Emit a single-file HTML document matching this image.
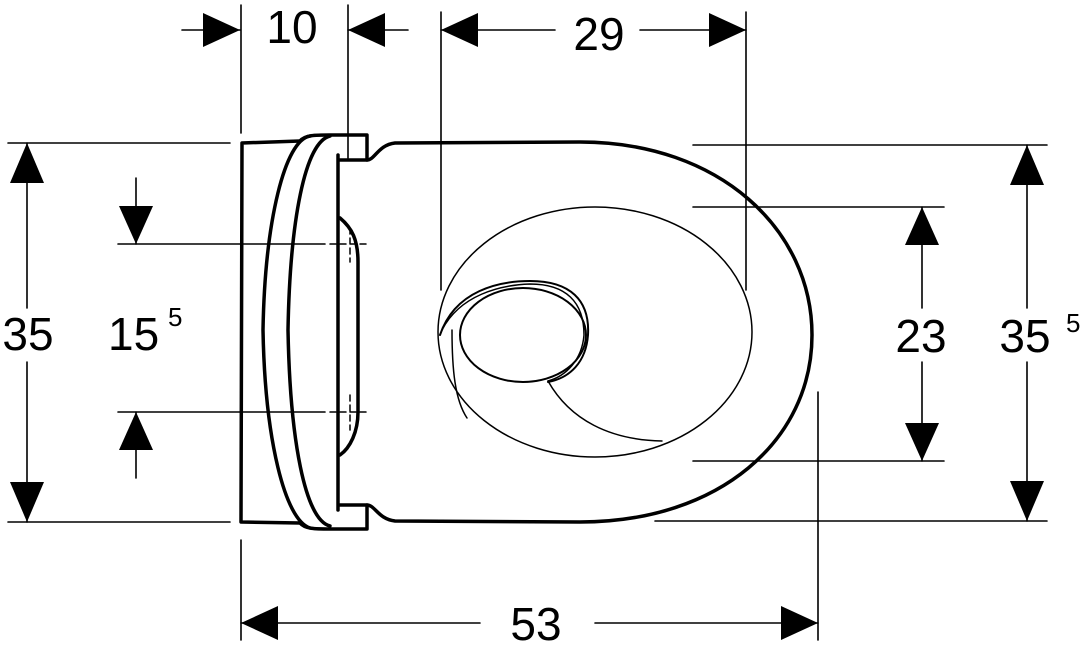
<!DOCTYPE html>
<html><head><meta charset="utf-8"><style>
html,body{margin:0;padding:0;background:#fff}
svg{display:block}
text{font-family:"Liberation Sans",sans-serif;fill:#000}
</style></head><body>
<svg width="1087" height="648" viewBox="0 0 1087 648" xmlns="http://www.w3.org/2000/svg">
<g fill="none" stroke="#000" stroke-linecap="round" stroke-linejoin="round">
<!-- back plate -->
<path d="M300,141 L242,143 L241,522 L300,523" stroke-width="3.5"/>
<!-- seat curves -->
<path d="M310,136 C285,140 265,220 263,330 C265,440 285,520 310,528" stroke-width="3.5"/>
<path d="M330,136 C305,142 290,220 288,330 C290,440 305,520 330,526" stroke-width="3.5"/>
<path d="M300,141 C305,135 315,135 330,135 L367,135 L367,160 L340,160" stroke-width="3.5"/>
<path d="M300,523 C305,529 315,529 330,529 L367,529 L367,505 L340,505" stroke-width="3.5"/>
<path d="M338,155 L338,510" stroke-width="3.5"/>
<!-- hinge bump -->
<path d="M340,218 C352,228 358,240 358,262 L358,412 C358,432 350,448 340,455" stroke-width="3.5"/>
<!-- bowl outline -->
<path d="M367,160 C375,160 378,145 395,143 L580,142 C720,142 812,230 812,335 C812,440 720,522 580,522 L395,521 C378,519 375,505 367,505" stroke-width="3.5"/>
<!-- inner bowl -->
<ellipse cx="595" cy="332" rx="157" ry="125" stroke-width="1.5"/>
<ellipse cx="523" cy="335" rx="63" ry="47" stroke-width="2"/>
<path d="M440,335 C455,290 500,281 530,281 C570,281 590,300 588,335 C586,362 570,378 548,382" stroke-width="2"/>
<path d="M442,330 C460,295 500,285 530,284 C566,284 584,302 584,335 C582,360 566,376 548,381" stroke-width="1.5"/>
<path d="M452,330 C452,370 455,400 467,418" stroke-width="1.5"/>
<path d="M548,381 C570,420 610,440 662,441" stroke-width="1.5"/>
<!-- hinge crosshairs -->
<g stroke-width="1.5" stroke-dasharray="6,4">
<path d="M330,244 L370,244 M350,228 L350,262"/>
<path d="M330,412 L370,412 M350,395 L350,430"/>
</g>
<!-- dimension / extension lines -->
<g stroke-width="1.6">
<path d="M241,5 L241,133"/>
<path d="M348,5 L348,158"/>
<path d="M182,30 L240,30 M348,30 L408,30"/>
<path d="M441,12 L441,290 M746,12 L746,290"/>
<path d="M441,30 L555,30 M640,30 L746,30"/>
<path d="M8,143 L230,143 M8,522 L230,522"/>
<path d="M27,143 L27,308 M27,362 L27,522"/>
<path d="M118,244 L325,244 M118,412 L325,412"/>
<path d="M136,178 L136,244 M136,412 L136,478"/>
<path d="M693,207 L944,207 M693,461 L944,461"/>
<path d="M922,207 L922,308 M922,362 L922,461"/>
<path d="M693,145 L1047,145 M655,521 L1047,521"/>
<path d="M1027,145 L1027,308 M1027,362 L1027,521"/>
<path d="M241,540 L241,640 M818,392 L818,640"/>
<path d="M241,623 L480,623 M595,623 L818,623"/>
</g>
</g>
<!-- arrowheads -->
<g fill="#000">
<polygon points="240,30 203,13 203,47"/>
<polygon points="348,30 385,13 385,47"/>
<polygon points="441,30 478,13 478,47"/>
<polygon points="746,30 709,13 709,47"/>
<polygon points="27,143 10,183 44,183"/>
<polygon points="27,522 10,482 44,482"/>
<polygon points="136,244 119,206 153,206"/>
<polygon points="136,412 119,450 153,450"/>
<polygon points="922,207 905,245 939,245"/>
<polygon points="922,461 905,423 939,423"/>
<polygon points="1027,145 1010,185 1044,185"/>
<polygon points="1027,521 1010,481 1044,481"/>
<polygon points="241,623 278,606 278,640"/>
<polygon points="818,623 781,606 781,640"/>
</g>
<g font-size="46">
<text x="292" y="43" text-anchor="middle">10</text>
<text x="599" y="50" text-anchor="middle">29</text>
<text x="28" y="350" text-anchor="middle">35</text>
<text x="108" y="350">15</text>
<text x="921" y="352" text-anchor="middle">23</text>
<text x="1025" y="352" text-anchor="middle">35</text>
<text x="536" y="640" text-anchor="middle">53</text>
</g>
<text x="168" y="326" font-size="26">5</text>
<text x="1066" y="332" font-size="26">5</text>
</svg>
</body></html>
